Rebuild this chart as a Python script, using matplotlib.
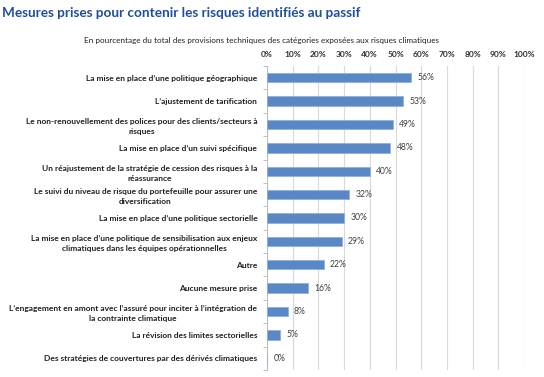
import numpy as np
import matplotlib.pyplot as plt
from matplotlib.ticker import FixedLocator

# données du graphique
categories = [
    "La mise en place d\u2019une politique géographique",
    "L\u2019ajustement de tarification",
    "Le non-renouvellement des polices pour des clients/secteurs à\nrisques",
    "La mise en place d\u2019un suivi spécifique",
    "Un réajustement de la stratégie de cession des risques à la\nréassurance",
    "Le suivi du niveau de risque du portefeuille pour assurer une\ndiversification",
    "La mise en place d\u2019une politique sectorielle",
    "La mise en place d\u2019une politique de sensibilisation aux enjeux\nclimatiques dans les équipes opérationnelles",
    "Autre",
    "Aucune mesure prise",
    "L\u2019engagement en amont avec l\u2019assuré pour inciter à l\u2019intégration de\nla contrainte climatique",
    "La révision des limites sectorielles",
    "Des stratégies de couvertures par des dérivés climatiques",
]
values = [56, 53, 49, 48, 40, 32, 30, 29, 22, 16, 8, 5, 0]
xticks = [0, 10, 20, 30, 40, 50, 60, 70, 80, 90, 100]

title = "Mesures prises pour contenir les risques identifiés au passif"
subtitle = "En pourcentage du total des provisions techniques des catégories exposées aux risques climatiques"

plt.rcParams['font.family'] = ['Lato', 'DejaVu Sans']

fig = plt.figure(figsize=(5.44, 3.77), dpi=100)
ax = fig.add_axes([267/544, 1-370/377, 257/544, 304/377])

y = np.arange(len(categories))
ax.barh(y, values, height=0.4, color='#5A88C6', edgecolor='#8DB0DC', linewidth=0.6, zorder=3)

for yi, v in zip(y, values):
    ax.text(v + 2.5, yi, f"{v}%", va='center', ha='left', fontsize=6.2, color='#404040', zorder=4)

ax.set_xlim(0, 100)
ax.set_ylim(len(categories) - 0.5, -0.5)

ax.xaxis.tick_top()
ax.set_xticks(xticks)
ax.set_xticklabels([f"{t}%" for t in xticks], fontsize=6, fontweight='bold', color='#303030')
ax.tick_params(axis='x', length=0, pad=6)
ax.grid(axis='x', color='#d9d9d9', linewidth=0.8, zorder=0)

ax.set_yticks(y)
ax.set_yticklabels(categories, fontsize=6, fontweight='bold', color='#202020',
                   multialignment='center', linespacing=1.5)
ax.tick_params(axis='y', which='major', length=0, pad=7)
ax.yaxis.set_minor_locator(FixedLocator(np.arange(-0.5, len(categories), 1)))
ax.tick_params(axis='y', which='minor', length=3, color='#bfbfbf', width=0.7)

for s in ['top', 'right', 'bottom']:
    ax.spines[s].set_visible(False)
ax.spines['left'].set_color('#bfbfbf')
ax.spines['left'].set_linewidth(0.8)

fig.text(2/544, 1-13/377, title, fontsize=9.8, fontweight='bold', color='#1F4E9E', va='center', ha='left')
fig.text(262/544, 1-40/377, subtitle, fontsize=5.9, color='#202020', va='center', ha='center')

fig.savefig('out.png', dpi=100)
